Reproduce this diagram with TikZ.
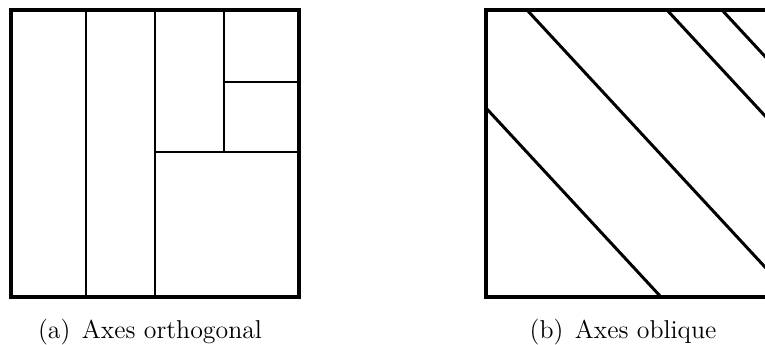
\documentclass[tikz,border=0pt]{standalone}
\usepackage{tikz}
\begin{document}
\begin{tikzpicture}[x=0.02cm, y=-0.02cm,
    frame/.style={line width=2.3pt},
    cut/.style={line width=1.7pt},
    caption/.style={font=\fontsize{14.7}{17}\selectfont, anchor=base, inner sep=0pt}]
  \useasboundingbox (0,0) rectangle (765,345);
  % (a) orthogonal cuts
  \draw[cut] (86,10) -- (86,297);
  \draw[cut] (155,10) -- (155,297);
  \draw[cut] (224,10) -- (224,152);
  \draw[cut] (155,152) -- (299,152);
  \draw[cut] (224,82) -- (299,82);
  \draw[frame] (11,10) rectangle (299,297);
  \node[caption] (capa) at (150,338) {(a)\hspace{0.45em}Axes orthogonal};
  % (b) oblique cuts
  \begin{scope}
    \clip (486,10) rectangle (776,297);
    \foreach \px/\py in {486/108, 527/10, 667/10, 722/10}
      \draw[cut] (\px,\py) ++(-100,-108) -- ++(400,432);
  \end{scope}
  \begin{scope}
    \clip (470,0) rectangle (765,310);
    \draw[frame] (486,10) rectangle (776,297);
  \end{scope}
  \node[caption] (capb) at (623,338) {(b)\hspace{0.45em}Axes oblique};
\end{tikzpicture}
\end{document}
